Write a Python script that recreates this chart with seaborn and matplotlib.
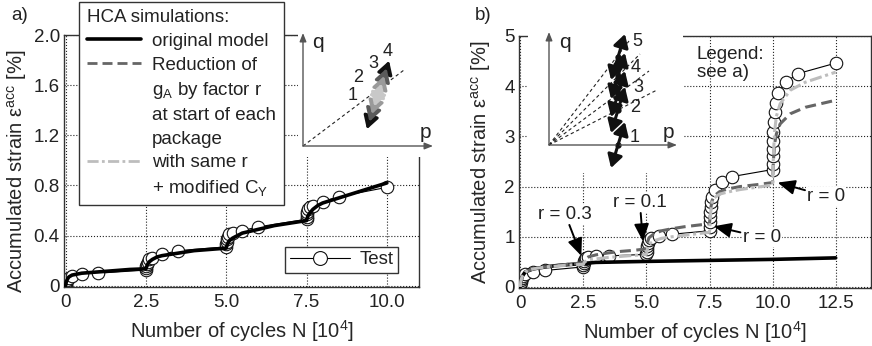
import matplotlib
matplotlib.use('Agg')
import matplotlib.pyplot as plt
import seaborn as sns
from matplotlib.lines import Line2D

# ---- panel a) : N [10^4] vs accumulated strain [%]
a_model_n = [0, 0.02, 0.05, 0.1, 0.2, 0.5, 1.0, 1.5, 2.0, 2.5, 2.52, 2.55, 2.6, 2.7, 2.85, 3.0, 3.5, 4.0,
             4.5, 5.0, 5.02, 5.05, 5.1, 5.2, 5.35, 5.5, 6.0, 6.5, 7.0, 7.5, 7.52, 7.55, 7.6, 7.7, 7.85,
             8.0, 8.5, 9.0, 9.5, 10.0]
a_model_eps = [0, 0.03, 0.05, 0.07, 0.085, 0.1, 0.11, 0.12, 0.13, 0.135, 0.15, 0.17, 0.19, 0.21, 0.23,
               0.24, 0.26, 0.28, 0.29, 0.30, 0.32, 0.34, 0.36, 0.38, 0.40, 0.42, 0.45, 0.48, 0.50, 0.52,
               0.54, 0.56, 0.58, 0.61, 0.64, 0.66, 0.70, 0.74, 0.78, 0.82]
a_test_n = [0, 0.005, 0.01, 0.02, 0.05, 0.1, 0.2, 0.5, 1.0,
            2.5, 2.505, 2.51, 2.52, 2.55, 2.6, 2.7, 3.0, 3.5,
            5.0, 5.005, 5.01, 5.02, 5.05, 5.1, 5.2, 5.5, 6.0,
            7.5, 7.505, 7.51, 7.52, 7.55, 7.6, 7.7, 8.0, 8.5, 10.0]
a_test_eps = [0, 0.01, 0.02, 0.03, 0.045, 0.06, 0.08, 0.095, 0.10,
              0.125, 0.14, 0.155, 0.17, 0.19, 0.21, 0.22, 0.25, 0.28,
              0.31, 0.33, 0.35, 0.37, 0.39, 0.41, 0.42, 0.44, 0.47,
              0.53, 0.55, 0.57, 0.59, 0.61, 0.63, 0.64, 0.67, 0.71, 0.785]

# ---- panel b)
b_model_n = [0, 0.02, 0.05, 0.1, 0.2, 0.5, 1.0, 1.5, 2.0, 2.5, 3.0, 4.0, 5.0, 7.5, 10.0, 12.5]
b_model_eps = [0, 0.1, 0.17, 0.23, 0.3, 0.36, 0.4, 0.43, 0.45, 0.47, 0.49, 0.5, 0.51, 0.53, 0.55, 0.58]

b_sim_n = [0, 0.02, 0.05, 0.1, 0.2, 0.5, 1.0, 1.5, 2.0, 2.5, 2.55, 2.7, 3.0, 3.5, 4.0, 4.5, 5.0, 5.05,
           5.1, 5.3, 5.6, 6.0, 6.5, 7.0, 7.5, 7.53, 7.56, 7.6, 7.7, 7.9, 8.2, 8.7, 9.4, 10.0, 10.03,
           10.08, 10.15, 10.3, 10.7, 11.3, 12.5]
b_reduced_eps = [0, 0.1, 0.17, 0.23, 0.3, 0.36, 0.4, 0.43, 0.46, 0.48, 0.55, 0.6, 0.64, 0.68, 0.71,
                 0.73, 0.76, 0.9, 0.98, 1.06, 1.12, 1.16, 1.2, 1.23, 1.26, 1.45, 1.6, 1.72, 1.82, 1.9,
                 1.95, 2.0, 2.04, 2.08, 2.5, 2.85, 3.05, 3.25, 3.45, 3.58, 3.72]
b_modcy_eps = [0, 0.1, 0.17, 0.23, 0.3, 0.36, 0.4, 0.42, 0.44, 0.45, 0.5, 0.54, 0.56, 0.59, 0.61,
               0.63, 0.65, 0.78, 0.85, 0.92, 0.97, 1.0, 1.03, 1.06, 1.09, 1.35, 1.55, 1.68, 1.78, 1.85,
               1.89, 1.94, 1.99, 2.03, 2.6, 3.1, 3.4, 3.65, 3.92, 4.08, 4.28]

b_test_n = [0, 0.003, 0.006, 0.01, 0.02, 0.05, 0.1, 0.2, 0.5, 1.0,
            2.5, 2.505, 2.51, 2.52, 2.55, 2.6, 2.7, 3.0, 3.5,
            5.0, 5.005, 5.01, 5.02, 5.05, 5.1, 5.2, 5.5, 6.0,
            7.5, 7.503, 7.506, 7.51, 7.52, 7.54, 7.57, 7.6, 7.7, 8.0, 8.4,
            10.0, 10.003, 10.006, 10.01, 10.02, 10.03, 10.05, 10.08, 10.12, 10.2, 10.55, 11.0, 12.5]
b_test_eps = [0, 0.03, 0.06, 0.1, 0.14, 0.18, 0.22, 0.26, 0.3, 0.33,
              0.4, 0.44, 0.48, 0.52, 0.55, 0.58, 0.6, 0.61, 0.62,
              0.65, 0.7, 0.76, 0.82, 0.88, 0.94, 0.98, 1.01, 1.05,
              1.12, 1.2, 1.3, 1.4, 1.5, 1.6, 1.7, 1.8, 1.94, 2.1, 2.2,
              2.34, 2.45, 2.6, 2.75, 2.9, 3.08, 3.28, 3.48, 3.67, 3.87, 4.09, 4.25, 4.46]

# r-annotations in b): label, arrow tip (N, eps), text centre (N, eps)
r_labels = ['r = 0.3', 'r = 0.1', 'r = 0', 'r = 0']
r_tips = [(2.42, 0.62), (4.86, 0.91), (7.67, 1.21), (10.2, 2.08)]
r_text = [(1.78, 1.45), (4.74, 1.69), (9.57, 0.99), (12.13, 1.81)]

# stress path sketches (schematic p-q coordinates)
qa_centre = (75, 51)
qa_half = [12, 20, 28, 36]
qa_colors = ['#c8c8c8', '#9a9a9a', '#5a5a5a', '#111111']
qa_num_pos = [(50, 51), (55, 69), (70, 83), (85, 94)]
qb_centres = [(69, 0), (69, 35), (69, 51), (69, 69), (69, 88)]
qb_ray_ends = [(108, 55), (100, 74), (91, 91), (80, 104)]
qb_num_pos = [(86, 8), (86, 38), (89, 57), (87, 78), (88, 103)]

sns.set_theme(style='white')
plt.rcParams['font.family'] = ['Liberation Sans', 'DejaVu Sans']
plt.rcParams['mathtext.fontset'] = 'custom'
plt.rcParams['mathtext.rm'] = 'Liberation Sans'
plt.rcParams['mathtext.it'] = 'Liberation Sans:italic'
plt.rcParams['mathtext.bf'] = 'Liberation Sans:bold'
plt.rcParams['text.color'] = '#222222'

W, H = 872, 346
fig = plt.figure(figsize=(W / 100, H / 100), dpi=100)
ax_a = fig.add_axes([64 / W, 1 - 287 / H, 355 / W, 252 / H])
ax_b = fig.add_axes([519 / W, 1 - 288 / H, 352 / W, 252 / H])

ylab = 'Accumulated strain ε$^{\\mathrm{acc}}$ [%]'
xlab = 'Number of cycles N [10$^{4}$]'
FS = 13.5


def style(ax, xticks, xlabels, xlim, yticks, ylabels, ylim):
    ax.set_xlim(xlim)
    ax.set_ylim(ylim)
    ax.set_xticks(xticks)
    ax.set_xticklabels(xlabels)
    ax.set_yticks(yticks)
    ax.set_yticklabels(ylabels)
    ax.grid(True, color='#222222', linestyle=':', linewidth=0.8)
    ax.tick_params(length=0, labelsize=FS, colors='#222222')
    ax.tick_params(axis='y', pad=3)
    ax.tick_params(axis='x', pad=5)
    for s in ax.spines.values():
        s.set_color('#333333')
        s.set_linewidth(1.0)
    ax.set_xlabel(xlab, fontsize=14.5, labelpad=5)
    ax.set_ylabel(ylab, fontsize=14.5)


dash_red = (0, (3.6, 1.8))
dash_cy = (0, (4.0, 1.2, 1.0, 1.2))
test_kw = dict(color='black', lw=0.8, marker='o', markersize=9, markerfacecolor='white',
               markeredgecolor='#111111', markeredgewidth=0.8, estimator=None, sort=False)

# ---- panel a
sns.lineplot(x=a_test_n, y=a_test_eps, ax=ax_a, zorder=2, **test_kw)
sns.lineplot(x=a_model_n, y=a_model_eps, ax=ax_a, color='black', lw=2.6, estimator=None, sort=False,
             zorder=3)
style(ax_a, [0, 2.5, 5, 7.5, 10], ['0', '2.5', '5.0', '7.5', '10.0'], (-0.05, 11.0),
      [0, 0.4, 0.8, 1.2, 1.6, 2.0], ['0', '0.4', '0.8', '1.2', '1.6', '2.0'], (-0.01, 2.0))
ax_a.yaxis.set_label_coords(-0.098, 0.46)

blank = Line2D([], [], color='none')
h_model = Line2D([], [], color='black', lw=2.6)
h_red = Line2D([], [], color='#666666', lw=2, linestyle=dash_red)
h_cy = Line2D([], [], color='#bdbdbd', lw=2, linestyle=dash_cy)
leg = ax_a.legend([h_model, h_red, blank, blank, blank, h_cy, blank],
                  ['original model', 'Reduction of', 'g$_\\mathrm{A}$ by factor r', 'at start of each',
                   'package', 'with same r', '+ modified C$_\\mathrm{Y}$'],
                  title='HCA simulations:', alignment='left', loc='upper left',
                  bbox_to_anchor=(79 / W, 1 - 2 / H), bbox_transform=fig.transFigure,
                  fontsize=FS, title_fontsize=FS, fancybox=False, framealpha=1, edgecolor='#333333',
                  handlelength=2.9, handletextpad=0.6, labelspacing=0.34, borderpad=0.4,
                  borderaxespad=0)
leg.get_frame().set_linewidth(1.0)
ax_a.add_artist(leg)
h_test = Line2D([], [], color='black', lw=0.8, marker='o', markersize=10, markerfacecolor='white',
                markeredgecolor='#111111', markeredgewidth=0.8)
leg2 = ax_a.legend([h_test], ['Test'], loc='lower right', bbox_to_anchor=(398 / W, 1 - 273 / H),
                   bbox_transform=fig.transFigure, fontsize=FS, fancybox=False, framealpha=1,
                   edgecolor='#333333', handlelength=3.2, handletextpad=0.5, borderpad=0.25,
                   borderaxespad=0, numpoints=1)
leg2.get_frame().set_linewidth(1.0)

# ---- panel b
sns.lineplot(x=b_test_n, y=b_test_eps, ax=ax_b, zorder=2, **test_kw)
sns.lineplot(x=b_model_n, y=b_model_eps, ax=ax_b, color='black', lw=2.6, estimator=None, sort=False,
             zorder=3)
sns.lineplot(x=b_sim_n, y=b_reduced_eps, ax=ax_b, color='#666666', lw=2.2, linestyle=dash_red,
             estimator=None, sort=False, zorder=3)
sns.lineplot(x=b_sim_n, y=b_modcy_eps, ax=ax_b, color='#bdbdbd', lw=2.2, linestyle=dash_cy,
             estimator=None, sort=False, zorder=3)
style(ax_b, [0, 2.5, 5, 7.5, 10, 12.5], ['0', '2.5', '5.0', '7.5', '10.0', '12.5'], (-0.05, 13.9),
      [0, 1, 2, 3, 4, 5], ['0', '1', '2', '3', '4', '5'], (-0.02, 5.0))
ax_b.yaxis.set_label_coords(-0.074, 0.5)
ax_b.text(7.0, 4.8, 'Legend:\nsee a)', fontsize=FS, ha='left', va='top', linespacing=1.1)
for lab, tip, txt in zip(r_labels, r_tips, r_text):
    ax_b.annotate(lab, xy=tip, xytext=txt, fontsize=FS, ha='center', va='center', zorder=6,
                  bbox=dict(boxstyle='square,pad=0.05', fc='white', ec='none'),
                  arrowprops=dict(arrowstyle='-|>,head_length=0.7,head_width=0.3', color='black',
                                  lw=1.4, shrinkA=1, shrinkB=0, mutation_scale=15))

# ---- p-q sketch insets
arrow_ax = dict(arrowstyle='-|>,head_length=0.5,head_width=0.2', color='#555555', lw=1.0,
                shrinkA=0, shrinkB=0, mutation_scale=10)
path_kw = dict(arrowstyle='<|-|>,head_length=0.6,head_width=0.35', lw=2.2, shrinkA=0, shrinkB=0,
               mutation_scale=13)


def sketch_axes(rect, xlim, ylim, p_end, q_end):
    ins = fig.add_axes(rect)
    ins.set_xlim(xlim)
    ins.set_ylim(ylim)
    ins.set_xticks([])
    ins.set_yticks([])
    ins.set_facecolor('white')
    for s in ins.spines.values():
        s.set_visible(False)
    ins.annotate('', xy=(p_end, 0), xytext=(0, 0), arrowprops=arrow_ax)
    ins.annotate('', xy=(0, q_end), xytext=(0, 0), arrowprops=arrow_ax)
    return ins


ins_a = sketch_axes([298 / W, 1 - 157 / H, 138 / W, 129 / H], (-5, 133), (-11, 118), 130, 113)
ins_a.plot([0, 101], [0, 76], color='#222222', lw=0.8, linestyle=(0, (3, 2.5)))
ins_a.text(9, 104, 'q', fontsize=15, ha='left', va='center')
ins_a.text(117, 13, 'p', fontsize=15, ha='left', va='center')
dx, dy = 0.308, 0.951
for hl, col in zip(qa_half[::-1], qa_colors[::-1]):
    cx, cy = qa_centre
    ins_a.annotate('', xy=(cx + hl * dx, cy + hl * dy), xytext=(cx - hl * dx, cy - hl * dy),
                   arrowprops=dict(color=col, **path_kw))
for i, (tx, ty) in enumerate(qa_num_pos):
    ins_a.text(tx, ty, str(i + 1), fontsize=13, ha='center', va='center')

ins_b = sketch_axes([528 / W, 1 - 173 / H, 155 / W, 145 / H], (-21, 134), (-28, 117), 128, 113)
for ex, ey in qb_ray_ends:
    ins_b.plot([0, ex], [0, ey], color='#222222', lw=0.8, linestyle=(0, (3, 2.5)))
ins_b.text(10, 103, 'q', fontsize=15, ha='left', va='center')
ins_b.text(114, 12, 'p', fontsize=15, ha='left', va='center')
dx, dy = 0.29, 0.957
for cx, cy in qb_centres:
    ins_b.annotate('', xy=(cx + 24 * dx, cy + 24 * dy), xytext=(cx - 24 * dx, cy - 24 * dy),
                   arrowprops=dict(color='#111111', **path_kw))
    ins_b.plot([cx], [cy], 'o', color='#111111', ms=3.5)
for i, (tx, ty) in enumerate(qb_num_pos):
    ins_b.text(tx, ty, str(i + 1), fontsize=13, ha='center', va='center')

fig.text(20 / W, 1 - 15 / H, 'a)', fontsize=FS, ha='center', va='center')
fig.text(483 / W, 1 - 15 / H, 'b)', fontsize=FS, ha='center', va='center')

fig.savefig('out.png', dpi=100)
